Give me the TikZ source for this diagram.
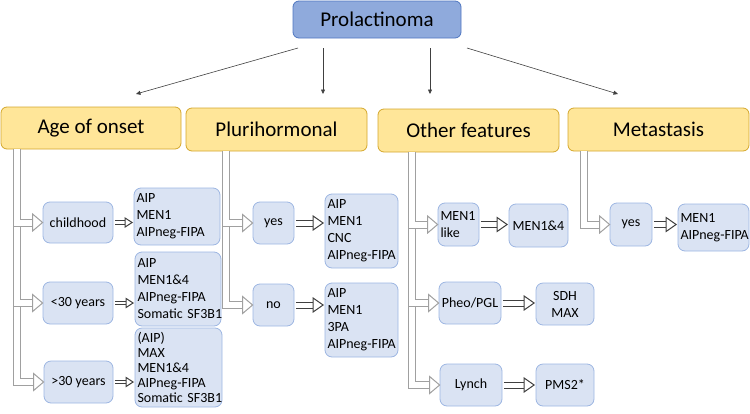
\documentclass[tikz,border=0pt]{standalone}
\usepackage{fontspec}
\setmainfont{Carlito}
\usetikzlibrary{calc,arrows.meta}
\definecolor{pfill}{HTML}{8FAADC}
\definecolor{pdraw}{HTML}{4F76C0}
\definecolor{hfill}{HTML}{FFE699}
\definecolor{hdraw}{HTML}{D4A72C}
\definecolor{bfill}{HTML}{DAE3F3}
\definecolor{bdraw}{HTML}{9DB6E2}
\definecolor{bentc}{HTML}{A0A0A0}
\definecolor{darkc}{HTML}{404040}
\tikzset{
 rootbox/.style={draw=pdraw, fill=pfill, line width=0.8pt, rounded corners=6pt, font=\fontsize{21}{25}\selectfont, inner sep=0pt},
 catbox/.style={draw=hdraw, fill=hfill, line width=0.8pt, rounded corners=6pt, minimum width=181pt, minimum height=43pt, font=\fontsize{21}{25}\selectfont, inner sep=0pt},
 cbox/.style={draw=bdraw, fill=bfill, line width=0.8pt, rounded corners=7pt, font=\fontsize{14}{17}\selectfont, inner sep=0pt, align=center},
 lbox/.style={cbox, align=left, inner xsep=2.5pt, inner ysep=0pt},
 topline/.style={draw=darkc, line width=0.6pt, -{Triangle[length=4.5pt,width=4pt]}},
 bent/.style={draw=bentc, line width=1pt, double=white, double distance=6pt},
 benthead/.style={draw=bentc, line width=1pt, fill=white, line join=miter},
 hshaft/.style={draw=darkc, line width=1pt, double=white},
 hhead/.style={draw=darkc, line width=1pt, fill=white, line join=miter},
}
\newcommand{\bentarr}[2]{%
 \draw[bent] (#1) |- ($(#2.west)+(-10,0)$);
 \draw[benthead] ($(#2.west)+(-10,-8.5)$) -- (#2.west) -- ($(#2.west)+(-10,8.5)$) -- cycle;}
\newcommand{\harr}[5]{%
 \coordinate (tmpA) at ($(#1.east)+(1.5,0)$);
 \coordinate (tmpT) at ($(#2.west |- #1.east)+(-1.5,0)$);
 \draw[hshaft, double distance=#3] (tmpA) -- ($(tmpT)+(-#4,0)$);
 \draw[hhead] ($(tmpT)+(-#4,-#5)$) -- (tmpT) -- ($(tmpT)+(-#4,#5)$) -- cycle;}
\begin{document}
\begin{tikzpicture}[x=1pt,y=-1pt]
\useasboundingbox (0,0) rectangle (750,413);
% root and categories
\node[rootbox, minimum width=168pt, minimum height=37pt] (P) at (377,19.5) {Prolactinoma};
\node[catbox, minimum width=180pt, minimum height=42pt] (age) at (91,128) {Age of onset};
\node[catbox] (pluri) at (276.5,129.5) {Plurihormonal};
\node[catbox] (other) at (468.5,130.5) {Other features};
\node[catbox] (meta) at (658.5,129.5) {Metastasis};
% top arrows
\coordinate (s1) at (298,48); \coordinate (e1) at (136,94);
\coordinate (s2) at (323,48); \coordinate (e2) at (323,94);
\coordinate (s3) at (430,48); \coordinate (e3) at (430,94);
\coordinate (s4) at (467,48); \coordinate (e4) at (618,94);
\draw[topline] (s1) -- (e1);
\draw[topline] (s2) -- (e2);
\draw[topline] (s3) -- (e3);
\draw[topline] (s4) -- (e4);
% age of onset column
\node[cbox, minimum width=70pt, minimum height=41pt] (childhood) at (78,222.5) {childhood};
\node[cbox, minimum width=70pt, minimum height=42pt] (lt30) at (78,303) {<30 years};
\node[cbox, minimum width=69pt, minimum height=42pt] (gt30) at (78.5,382) {>30 years};
\node[lbox, text width=81pt, minimum height=57pt] (res1) at (177,216.5) {AIP\\MEN1\\\mbox{AIPneg-FIPA}};
\node[lbox, text width=81pt, minimum height=74pt] (res2) at (178,289) {AIP\\MEN1\&4\\\mbox{AIPneg-FIPA}\\\mbox{Somatic SF3B1}};
\node[lbox, text width=82pt, minimum height=79pt, font=\fontsize{14}{15.2}\selectfont] (res3) at (178.5,367.5) {(AIP)\\MAX\\MEN1\&4\\\mbox{AIPneg-FIPA}\\\mbox{Somatic SF3B1}};
% plurihormonal column
\node[cbox, minimum width=41pt, minimum height=42pt] (pyes) at (273.5,223) {yes};
\node[cbox, minimum width=41pt, minimum height=42pt] (pno) at (273.5,305) {no};
\node[lbox, text width=68pt, minimum height=74pt] (pres1) at (361.5,231) {AIP\\MEN1\\CNC\\\mbox{AIPneg-FIPA}};
\node[lbox, text width=68pt, minimum height=74pt] (pres2) at (361.5,320) {AIP\\MEN1\\3PA\\\mbox{AIPneg-FIPA}};
% other features column
\node[lbox, text width=36pt, minimum height=43pt] (men1like) at (458.5,224.5) {MEN1\\like};
\node[cbox, minimum width=59pt, minimum height=43pt] (men14) at (538.5,225.5) {MEN1\&4};
\node[cbox, minimum width=62pt, minimum height=42pt] (pheo) at (470,303) {Pheo/PGL};
\node[cbox, minimum width=58pt, minimum height=42pt] (sdh) at (565,304) {SDH\\MAX};
\node[cbox, minimum width=62pt, minimum height=42pt] (lynch) at (471,385) {Lynch};
\node[cbox, minimum width=58pt, minimum height=42pt] (pms) at (565,385) {PMS2*};
% metastasis column
\node[cbox, minimum width=42pt, minimum height=43pt] (myes) at (631,224.5) {yes};
\node[lbox, text width=66pt, minimum height=47pt] (mres) at (713.5,227.5) {MEN1\\\mbox{AIPneg-FIPA}};
% bent hollow arrows
\coordinate (ageS) at ($(age.south west)+(16,0)$);
\coordinate (pluriS) at ($(pluri.south west)+(40.5,0)$);
\coordinate (otherS) at ($(other.south west)+(34,0)$);
\coordinate (metaS) at ($(meta.south west)+(16,0)$);
\bentarr{ageS}{gt30}
\bentarr{ageS}{lt30}
\bentarr{ageS}{childhood}
\bentarr{pluriS}{pno}
\bentarr{pluriS}{pyes}
\bentarr{otherS}{lynch}
\bentarr{otherS}{pheo}
\bentarr{otherS}{men1like}
\bentarr{metaS}{myes}
% horizontal hollow arrows
\harr{childhood}{res1}{2.5pt}{7}{4.5}
\harr{lt30}{res2}{2.5pt}{7}{4.5}
\harr{gt30}{res3}{2.5pt}{7}{4.5}
\harr{pyes}{pres1}{5pt}{10}{7}
\harr{pno}{pres2}{5pt}{10}{7}
\harr{men1like}{men14}{5pt}{10}{7}
\harr{pheo}{sdh}{5pt}{10}{7}
\harr{lynch}{pms}{5pt}{10}{7}
\harr{myes}{mres}{5pt}{10}{7}
\end{tikzpicture}
\end{document}
